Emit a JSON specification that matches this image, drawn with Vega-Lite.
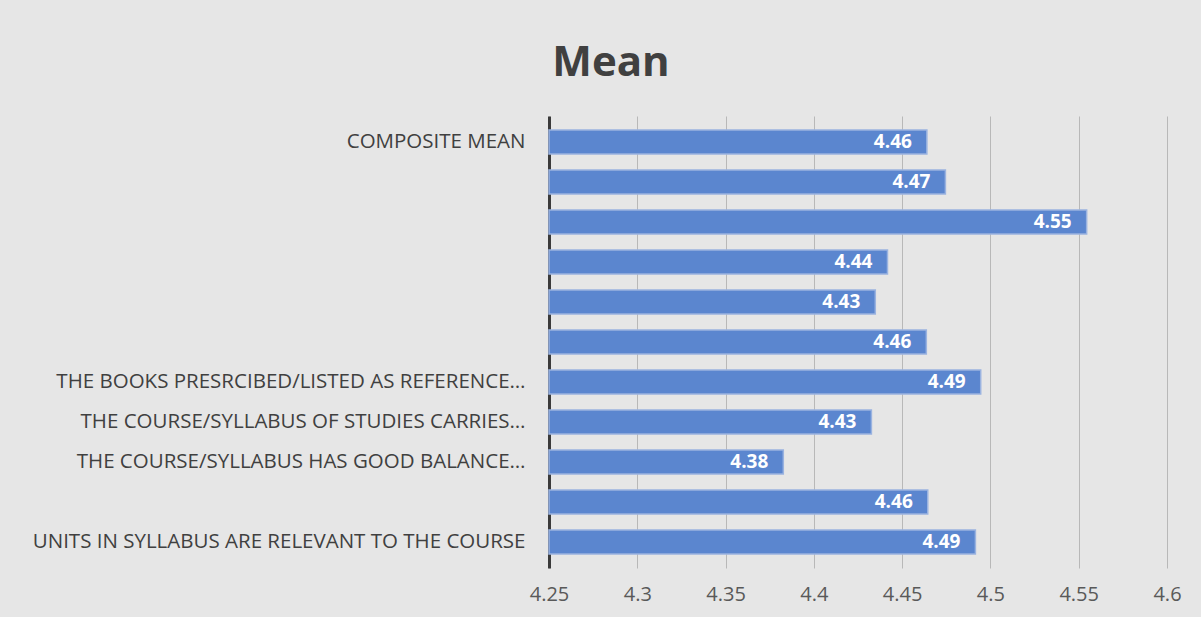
{
  "$schema": "https://vega.github.io/schema/vega-lite/v6.json",
  "width": 618,
  "height": 452,
  "autosize": {"type": "none"},
  "padding": {"left": 549, "top": 116, "right": 34, "bottom": 49},
  "background": "#e6e6e6",
  "title": {
    "text": "Mean",
    "fontSize": 42,
    "fontWeight": "bold",
    "font": "Open Sans",
    "color": "#404040",
    "anchor": "middle",
    "frame": "group",
    "dx": -247,
    "offset": 31
  },
  "data": {
    "values": [
      {"item": "COMPOSITE MEAN", "order": 1, "mean": 4.464},
      {"item": "#10", "order": 2, "mean": 4.4745},
      {"item": "#9", "order": 3, "mean": 4.5545},
      {"item": "#8", "order": 4, "mean": 4.4417},
      {"item": "#7", "order": 5, "mean": 4.4348},
      {"item": "#6", "order": 6, "mean": 4.4637},
      {"item": "THE BOOKS PRESRCIBED/LISTED AS REFERENCE…", "order": 7, "mean": 4.4945},
      {"item": "THE COURSE/SYLLABUS OF STUDIES CARRIES…", "order": 8, "mean": 4.4326},
      {"item": "THE COURSE/SYLLABUS HAS GOOD BALANCE…", "order": 9, "mean": 4.3827},
      {"item": "#2", "order": 10, "mean": 4.4645},
      {"item": "UNITS IN SYLLABUS ARE RELEVANT TO THE COURSE", "order": 11, "mean": 4.4915}
    ]
  },
  "encoding": {
    "y": {
      "field": "item",
      "type": "nominal",
      "sort": {"field": "order", "order": "ascending"},
      "scale": {"paddingInner": 0.4, "paddingOuter": 0.35},
      "axis": {
        "title": null,
        "ticks": false,
        "grid": false,
        "domain": true,
        "domainColor": "#3a3a3a",
        "domainWidth": 3,
        "labelExpr": "indexof(datum.value, '#') == 0 ? '' : datum.value",
        "labelFont": "Open Sans",
        "labelFontSize": 20.5,
        "labelColor": "#404040",
        "labelPadding": 24,
        "labelLimit": 560
      }
    },
    "x": {
      "field": "mean",
      "type": "quantitative",
      "scale": {"domain": [4.25, 4.6], "nice": false, "zero": false, "clamp": true},
      "axis": {
        "title": null,
        "values": [4.25, 4.3, 4.35, 4.4, 4.45, 4.5, 4.55, 4.6],
        "labelExpr": "format(datum.value, '.2~f')",
        "labelFlush": false,
        "domain": false,
        "ticks": false,
        "grid": true,
        "gridColor": "#b8b8b8",
        "gridWidth": 1,
        "labelFont": "Open Sans",
        "labelFontSize": 20,
        "labelColor": "#595959",
        "labelPadding": 16
      }
    }
  },
  "layer": [
    {
      "mark": {"type": "bar", "fill": "#5b86cf", "stroke": "#9ab3e0", "strokeWidth": 1.5}
    },
    {
      "mark": {"type": "text", "align": "right", "dx": -15, "fontSize": 19, "fontWeight": "bold", "font": "Open Sans", "color": "white"},
      "encoding": {
        "text": {"field": "mean", "type": "quantitative", "format": ".2f"}
      }
    }
  ],
  "config": {"view": {"stroke": null}}
}
